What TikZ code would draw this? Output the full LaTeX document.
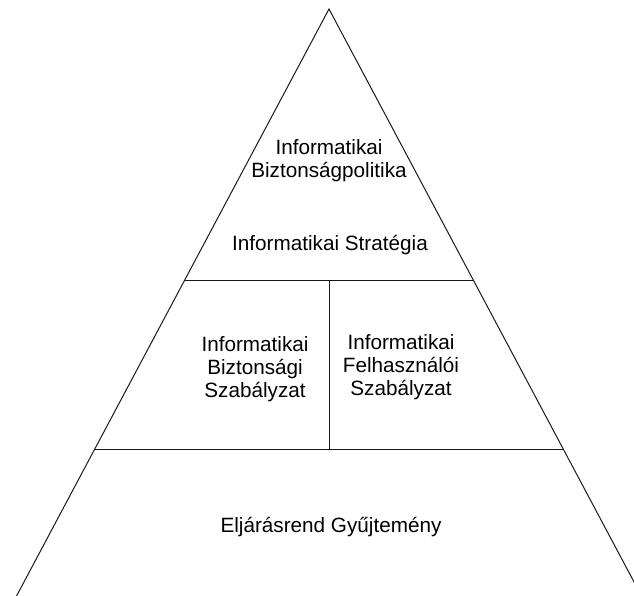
\documentclass[tikz,border=0pt]{standalone}
\usepackage{fontspec}
\setmainfont{Liberation Sans}
\begin{document}
\begin{tikzpicture}[x=1pt,y=-1pt,
  edge/.style={line width=1pt,draw=black!90},
  lbl/.style={inner sep=0pt,align=center,font=\fontsize{20.7}{23}\selectfont}]
\useasboundingbox (0,0) rectangle (634,595);
\clip (0,0) rectangle (634,595);
\coordinate (apex) at (329,9);
\coordinate (bl) at (0,627);
\coordinate (br) at (658,627);
\coordinate (l1) at (184.7,280);
\coordinate (r1) at (473.3,280);
\coordinate (l2) at (94.7,449);
\coordinate (r2) at (563.3,449);
\coordinate (m1) at (329,280);
\coordinate (m2) at (329,449);
\draw[edge] (bl) -- (apex) -- (br);
\draw[edge] (l1) -- (r1);
\draw[edge] (l2) -- (r2);
\draw[edge] (m1) -- (m2);
\node[lbl] (pol) at (329,161) {Informatikai\\Biztonságpolitika};
\node[lbl,anchor=base] (str) at (330,250) {Informatikai Stratégia};
\node[lbl] (bsz) at (255,369.5) {Informatikai\\Biztonsági\\Szabályzat};
\node[lbl] (fsz) at (401,367.5) {Informatikai\\Felhasználói\\Szabályzat};
\node[lbl,anchor=base] (elj) at (331,532) {Eljárásrend Gyűjtemény};
\end{tikzpicture}
\end{document}
